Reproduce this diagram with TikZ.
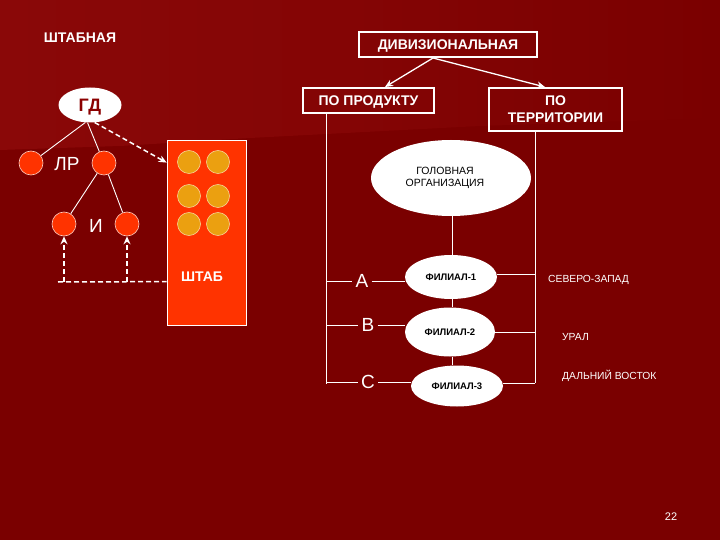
\documentclass[tikz,border=0pt]{standalone}
\usepackage{fontspec}
\setmainfont{Liberation Sans}
\usetikzlibrary{arrows.meta,shapes.geometric,calc}
\definecolor{bg}{HTML}{7A0000}
\definecolor{bglight}{HTML}{8A0808}
\definecolor{hot}{HTML}{FF3300}
\definecolor{gold}{HTML}{EBA010}
\definecolor{gdtext}{HTML}{8B0000}
\begin{document}
\begin{tikzpicture}[x=1pt,y=-1pt,
  wline/.style={draw=white,line width=0.9pt},
  wbox/.style={draw=white,line width=2pt,inner sep=0pt,align=center,text=white,font=\bfseries\fontsize{14}{17}\selectfont},
  wtext/.style={text=white,inner sep=0pt},
  oval/.style={ellipse,fill=white,inner sep=0pt,align=center},
  redball/.style={circle,fill=hot,draw=white!75!hot,line width=0.6pt,minimum size=24pt,inner sep=0pt},
  goldball/.style={circle,fill=gold,draw=white!55!gold,line width=0.6pt,minimum size=23pt,inner sep=0pt},
  dasharrow/.style={draw=white,line width=1.5pt,dash pattern=on 5pt off 3pt,-{Stealth[length=8pt,width=7pt]}},
  dashline/.style={draw=white,line width=1.5pt,dash pattern=on 5pt off 3pt},
  solidarrow/.style={draw=white,line width=1.3pt,-{Stealth[length=8pt,width=7pt]}}
]
\fill[bg] (0,0) rectangle (720,540);
\shade[left color=bglight,right color=bg,middle color=bglight!60!bg]
  (0,0) -- (720,0) -- (720,118) -- (480,126) -- (250,138) -- (120,146) -- (0,150) -- cycle;
\useasboundingbox (0,0) rectangle (720,540);

% ---------- left: staff structure ----------
\node[wtext,text depth=0pt,font=\bfseries\fontsize{14}{16}\selectfont] (title1) at (80,38) {ШТАБНАЯ};
\node[oval,minimum width=63pt,minimum height=35pt,text depth=0pt,font=\bfseries\fontsize{18}{20}\selectfont,text=gdtext] (gd) at (90,105) {ГД};
\node[redball] (lr1) at (31,163) {};
\node[redball] (lr2) at (104,163) {};
\node[wtext,font=\fontsize{19}{21}\selectfont] (lrt) at (67,164) {ЛР};
\node[redball] (i1) at (64,224) {};
\node[redball] (i2) at (127,224) {};
\node[wtext,font=\fontsize{19}{21}\selectfont] (it) at (96,226) {И};

\draw[wline] (gd.-105) -- (lr1);
\draw[wline] (gd.-98) -- (lr2);
\draw[wline] (lr2) -- (i1);
\draw[wline] (lr2) -- (i2);

% staff block
\node[draw=white,line width=0.8pt,fill=hot,minimum width=79pt,minimum height=185pt,inner sep=0pt] (shtab) at (206.5,232.5) {};
\node[goldball] (g1) at (189,162) {};
\node[goldball] (g2) at (218,162) {};
\node[goldball] (g3) at (189,196) {};
\node[goldball] (g4) at (218,196) {};
\node[goldball] (g5) at (189,224) {};
\node[goldball] (g6) at (218,224) {};
\node[wtext,font=\bfseries\fontsize{14}{16}\selectfont] (shtabt) at (202,277) {ШТАБ};

\coordinate (sd) at ($(shtab.north west)+(0,23)$);
\draw[dasharrow] (gd.-75) -- (sd);
\coordinate (hl) at (58,282);
\coordinate (hr) at ($(shtab.north west)+(0,142)$);
\draw[dashline] (hl) -- (hr);
\draw[dasharrow] (i1 |- hl) -- (i1);
\draw[dasharrow] (i2 |- hl) -- (i2);

% ---------- right: divisional structure ----------
\node[wbox,minimum width=178pt,minimum height=25pt,text depth=0pt] (div) at (448,44.5) {ДИВИЗИОНАЛЬНАЯ};
\node[wbox,minimum width=131pt,minimum height=25pt,text depth=0pt] (prod) at (368.5,100.5) {ПО ПРОДУКТУ};
\node[wbox,minimum width=133pt,minimum height=43pt] (terr) at (555.5,109.5) {ПО\\ТЕРРИТОРИИ};
\coordinate (dsplit) at (433,58);
\draw[solidarrow] (dsplit) -- (prod.north -| 385,0);
\draw[solidarrow] (dsplit) -- (terr.north -| 545,0);

\node[oval,minimum width=160pt,minimum height=76pt] (head) at (451,178) {};
\node[inner sep=0pt,align=center,font=\fontsize{10.5}{12}\selectfont] (headt) at (445,178) {ГОЛОВНАЯ\\ОРГАНИЗАЦИЯ};
\node[oval,minimum width=92pt,minimum height=44pt,font=\bfseries\fontsize{9.5}{11}\selectfont] (f1) at (451,277) {ФИЛИАЛ-1};
\node[oval,minimum width=90pt,minimum height=49pt,font=\bfseries\fontsize{9.5}{11}\selectfont] (f2) at (450,332) {ФИЛИАЛ-2};
\node[oval,minimum width=92pt,minimum height=41pt,font=\bfseries\fontsize{9.5}{11}\selectfont] (f3) at (457,386) {ФИЛИАЛ-3};

\draw[wline] (head.south -| 452,0) -- (f1.north -| 452,0);
\draw[wline] (f1.south -| 452,0) -- (f2.north -| 452,0);
\draw[wline] (f2.south -| 452,0) -- (f3.north -| 452,0);

% product axis
\coordinate (px) at (326,384);
\node[wtext,font=\fontsize{19}{21}\selectfont] (la) at (362,281) {A};
\node[wtext,font=\fontsize{19}{21}\selectfont] (lb) at (368,325) {B};
\node[wtext,font=\fontsize{19}{21}\selectfont] (lc) at (368,382) {C};
\draw[wline] (px |- prod.south) -- (px);
\draw[wline] (px |- la) -- ($(la.west)+(-3,0)$);
\draw[wline] ($(la.east)+(3,0)$) -- (f1.west |- la);
\draw[wline] (px |- lb) -- ($(lb.west)+(-3,0)$);
\draw[wline] ($(lb.east)+(3,0)$) -- (f2.west |- lb);
\draw[wline] (px |- lc) -- ($(lc.west)+(-3,0)$);
\draw[wline] ($(lc.east)+(3,0)$) -- (f3.west |- lc);

% territory axis
\coordinate (tx) at (535,383);
\draw[wline] (tx |- terr.south) -- (tx);
\draw[wline] (f1.east |- 0,274) -- (tx |- 0,274);
\draw[wline] (f2.east) -- (tx |- f2.east);
\draw[wline] (f3.east |- 0,383) -- (tx);

\node[wtext,anchor=west,font=\fontsize{10.3}{12}\selectfont] (nw) at (548,280) {СЕВЕРО-ЗАПАД};
\node[wtext,anchor=west,font=\fontsize{10.3}{12}\selectfont] (ural) at (562,337) {УРАЛ};
\node[wtext,anchor=west,font=\fontsize{10.3}{12}\selectfont] (fe) at (562,376) {ДАЛЬНИЙ ВОСТОК};

\node[wtext,font=\fontsize{11}{13}\selectfont] (pg) at (671,517) {22};
\end{tikzpicture}
\end{document}
